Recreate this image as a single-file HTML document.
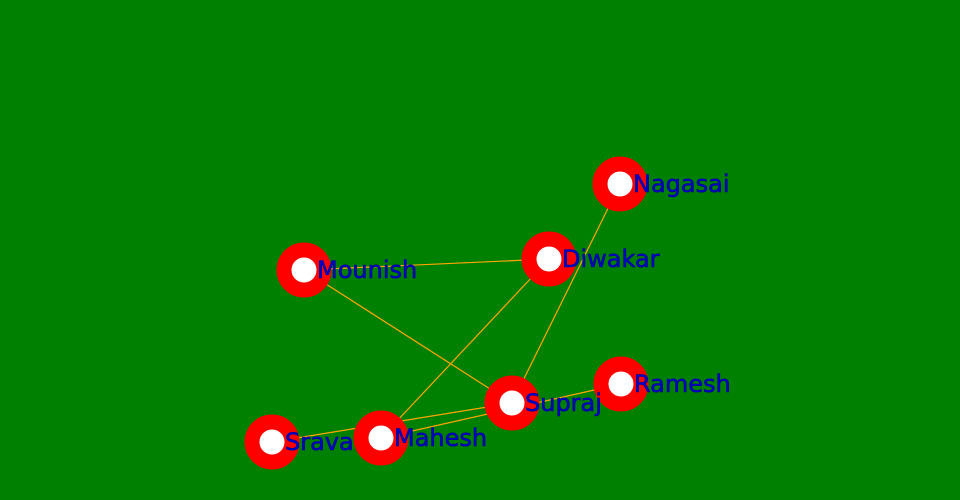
<!DOCTYPE html>
<html><head><style>html,body{margin:0;padding:0;background:#008000;overflow:hidden;width:960px;height:500px;}svg{display:block;}</style></head>
<body>
<svg width="960" height="500" xmlns="http://www.w3.org/2000/svg">
<rect width="960" height="500" fill="#008000"/>
<g stroke="#ffa500" stroke-width="1.2">
<line x1="304" y1="270" x2="549" y2="259"/>
<line x1="304" y1="270" x2="512" y2="403"/>
<line x1="549" y1="259" x2="381" y2="438"/>
<line x1="620" y1="184" x2="512" y2="403"/>
<line x1="272" y1="442" x2="512" y2="403"/>
<line x1="381" y1="438" x2="621" y2="384"/>
</g>
<g font-family="DejaVu Sans, sans-serif" font-size="24">
<g><circle cx="272" cy="442" r="20" fill="#fff" stroke="#f00" stroke-width="15"/><text x="285" y="450" fill="#0000cc" stroke="#00008b" stroke-width="0.6">Sravan</text></g>
<g><circle cx="381" cy="438" r="20" fill="#fff" stroke="#f00" stroke-width="15"/><text x="394" y="446" fill="#0000cc" stroke="#00008b" stroke-width="0.6">Mahesh</text></g>
<g><circle cx="304" cy="270" r="20" fill="#fff" stroke="#f00" stroke-width="15"/><text x="317" y="278" fill="#0000cc" stroke="#00008b" stroke-width="0.6">Mounish</text></g>
<g><circle cx="549" cy="259" r="20" fill="#fff" stroke="#f00" stroke-width="15"/><text x="562" y="267" fill="#0000cc" stroke="#00008b" stroke-width="0.6">Diwakar</text></g>
<g><circle cx="620" cy="184" r="20" fill="#fff" stroke="#f00" stroke-width="15"/><text x="633" y="192" fill="#0000cc" stroke="#00008b" stroke-width="0.6">Nagasai</text></g>
<g><circle cx="621" cy="384" r="20" fill="#fff" stroke="#f00" stroke-width="15"/><text x="634" y="392" fill="#0000cc" stroke="#00008b" stroke-width="0.6">Ramesh</text></g>
<g><circle cx="512" cy="403" r="20" fill="#fff" stroke="#f00" stroke-width="15"/><text x="525" y="411" fill="#0000cc" stroke="#00008b" stroke-width="0.6">Supraj</text></g>
</g>
</svg>
</body></html>
